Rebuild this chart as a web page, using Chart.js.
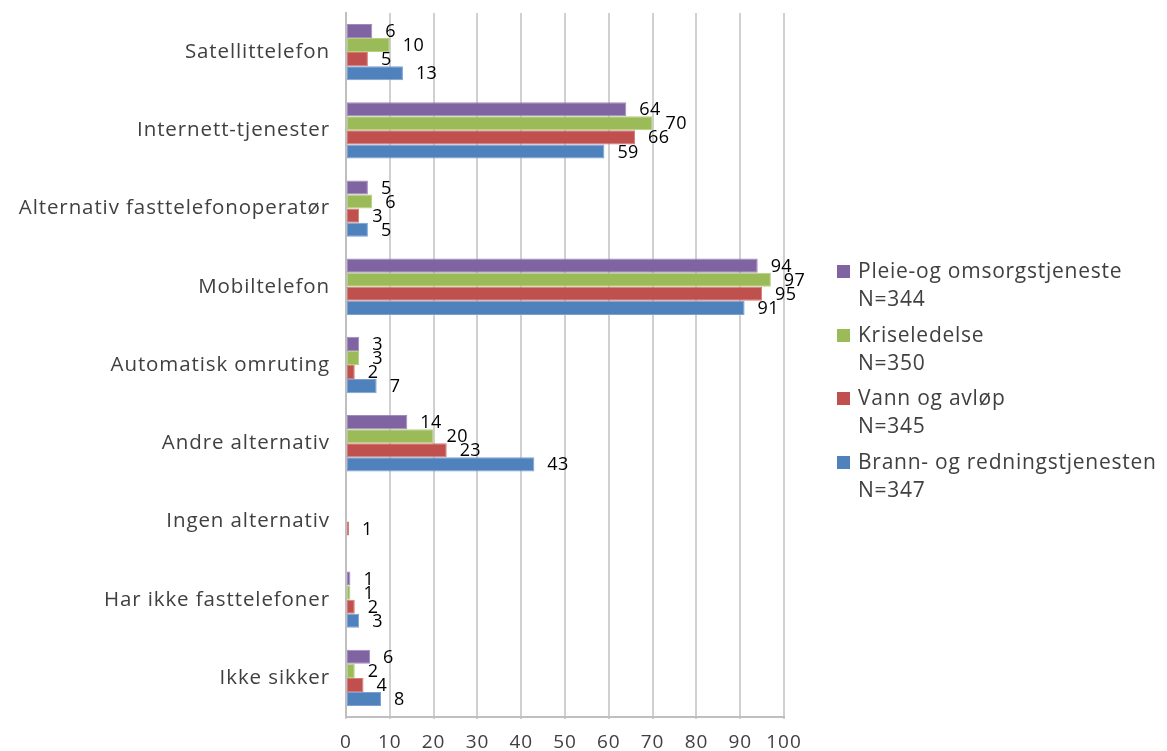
<!DOCTYPE html>
<html>
<head>
<meta charset="utf-8">
<script src="https://cdn.jsdelivr.net/npm/chart.js@4.4.1/dist/chart.umd.min.js"></script>
<style>
  html, body { margin: 0; padding: 0; background: #fff; }
  #wrap { position: relative; width: 1167px; height: 751px; }
  #c { position: absolute; left: 0; top: 0; }
  #legend { position: absolute; left: 837px; top: 256px; font-family: "Open Sans", "Liberation Sans", sans-serif; font-size: 21px; letter-spacing: 0.75px; color: #404040; }
  .item { position: relative; height: 63.5px; padding-left: 21px; line-height: 28px; white-space: nowrap; }
  .box { position: absolute; left: 0; top: 9px; width: 13px; height: 13px; }
</style>
</head>
<body>
<div id="wrap">
  <canvas id="c" width="1167" height="751"></canvas>
  <div id="legend"></div>
</div>
<script>
const categories = [
  "Satellittelefon",
  "Internett-tjenester",
  "Alternativ fasttelefonoperatør",
  "Mobiltelefon",
  "Automatisk omruting",
  "Andre alternativ",
  "Ingen alternativ",
  "Har ikke fasttelefoner",
  "Ikke sikker"
];
const seriesNames = ["Pleie-og omsorgstjeneste", "Kriseledelse", "Vann og avløp", "Brann- og redningstjenesten"];
const seriesN = ["N=344", "N=350", "N=345", "N=347"];
const pleie = [6, 64, 5, 94, 3, 14, null, 1, 5.5];
const krise = [10, 70, 6, 97, 3, 20, null, 1, 2];
const vann = [5, 66, 3, 95, 2, 23, 0.7, 2, 4];
const brann = [13, 59, 5, 91, 7, 43, null, 3, 8];
const xTicks = [0, 10, 20, 30, 40, 50, 60, 70, 80, 90, 100];
const colors = ["#8064A2", "#9BBB59", "#C0504D", "#4F81BD"];
const borders = ["#A08AC0", "#B5D07F", "#D67A77", "#7AA0D4"];

const seriesData = [pleie, krise, vann, brann];

const FONT = "'Open Sans', 'Liberation Sans', sans-serif";

const spacingPlugin = {
  id: 'spacing',
  beforeDraw(chart) { chart.ctx.letterSpacing = '0.9px'; }
};

const labelPlugin = {
  id: 'valueLabels',
  afterDatasetsDraw(chart) {
    const ctx = chart.ctx;
    ctx.save();
    ctx.font = "18px " + FONT;
    ctx.letterSpacing = '0.3px';
    ctx.fillStyle = "#000";
    ctx.textBaseline = "middle";
    ctx.textAlign = "left";
    chart.data.datasets.forEach((ds, i) => {
      const meta = chart.getDatasetMeta(i);
      meta.data.forEach((el, j) => {
        const v = ds.data[j];
        if (v === null || v === undefined) return;
        ctx.fillText(String(Math.round(v)), el.x + 13, el.y + 1);
      });
    });
    ctx.restore();
  }
};

new Chart(document.getElementById('c'), {
  type: 'bar',
  data: {
    labels: categories,
    datasets: seriesNames.map((n, i) => ({
      label: n + " " + seriesN[i],
      data: seriesData[i],
      backgroundColor: colors[i],
      borderColor: borders[i],
      borderWidth: 1,
      borderSkipped: false,
      categoryPercentage: 0.72,
      barPercentage: 1.0
    }))
  },
  options: {
    indexAxis: 'y',
    responsive: false,
    animation: false,
    devicePixelRatio: 1,
    layout: { padding: { top: 13, right: 383, bottom: 0, left: 0 } },
    plugins: { legend: { display: false }, tooltip: { enabled: false } },
    scales: {
      x: {
        min: 0, max: 100,
        afterBuildTicks(scale) { scale.ticks = xTicks.map(v => ({ value: v })); },
        afterFit(scale) { scale.height = 34; scale.paddingLeft = 0; scale.paddingRight = 0; },
        grid: { color: "#D0D0D0", lineWidth: 2, drawTicks: true, tickLength: 2 },
        border: { color: "#BFBFBF", width: 2 },
        ticks: { color: "#404040", font: { family: FONT, size: 19 }, padding: 12, maxRotation: 0 }
      },
      y: {
        afterFit(scale) { scale.width = 346; scale.paddingTop = 0; scale.paddingBottom = 0; },
        grid: { display: false, drawTicks: false },
        border: { color: "#BFBFBF", width: 2 },
        ticks: { color: "#404040", font: { family: FONT, size: 20.5 }, padding: 16 }
      }
    }
  },
  plugins: [spacingPlugin, labelPlugin]
});

const legend = document.getElementById('legend');
seriesNames.forEach((n, i) => {
  const d = document.createElement('div');
  d.className = 'item';
  const b = document.createElement('span');
  b.className = 'box';
  b.style.background = colors[i];
  d.appendChild(b);
  d.appendChild(document.createTextNode(n));
  d.appendChild(document.createElement('br'));
  d.appendChild(document.createTextNode(seriesN[i]));
  legend.appendChild(d);
});
</script>
</body>
</html>
